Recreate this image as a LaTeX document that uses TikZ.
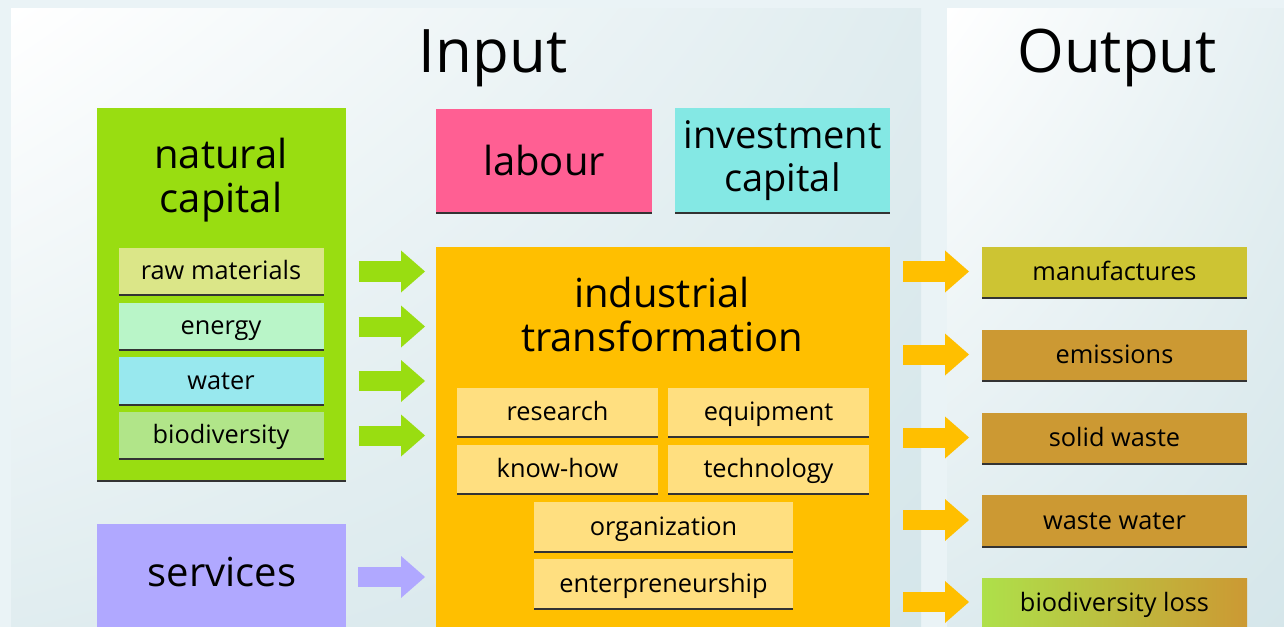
\documentclass[tikz,border=0pt]{standalone}
\usepackage{fontspec}
\setmainfont{Open Sans}
\usepackage{tikz}
\usetikzlibrary{arrows.meta}
\usetikzlibrary{calc}
\usetikzlibrary{shadings}

\definecolor{bgblue}{RGB}{234,243,246}
\definecolor{panelblue}{RGB}{213,230,234}
\definecolor{natgreen}{RGB}{153,221,17}
\definecolor{rawcol}{RGB}{219,230,136}
\definecolor{energycol}{RGB}{185,245,200}
\definecolor{watercol}{RGB}{152,232,238}
\definecolor{biocol}{RGB}{177,229,137}
\definecolor{labourcol}{RGB}{255,95,147}
\definecolor{investcol}{RGB}{132,232,228}
\definecolor{induscol}{RGB}{255,191,0}
\definecolor{subindus}{RGB}{255,223,128}
\definecolor{servcol}{RGB}{176,168,255}
\definecolor{manucol}{RGB}{205,196,51}
\definecolor{wastecol}{RGB}{204,153,51}
\definecolor{lossgreen}{RGB}{174,224,74}

\tikzset{
  boxsize/.style 2 args={minimum width=#1*0.75pt, minimum height=#2*0.75pt},
  tile/.style={rectangle, inner sep=0pt, outer sep=0pt, text=black},
  smalltxt/.style={font=\fontsize{19}{21}\selectfont, text height=15pt, text depth=3pt},
  bigtxt/.style={font=\fontsize{30}{33}\selectfont, align=center},
  titletxt/.style={font=\fontsize{45}{50}\selectfont, anchor=base},
  shadowline/.style={draw=black!80, line width=1.5pt},
  blockarrow/.style={line width=15pt, -{Triangle[width=31.5pt,length=18pt,line width=0pt]}},
}

\begin{document}
\begin{tikzpicture}[x=0.75pt,y=0.75pt,yscale=-1,xscale=1]
\useasboundingbox (0,0) rectangle (1284,627);
\clip (0,0) rectangle (1284,627);

%Background
\fill[bgblue] (0,0) rectangle (1284,627);
\shade[upper left=white, lower right=panelblue, upper right=panelblue!75!white, lower left=panelblue!75!white] (11,9) rectangle (921,640);
\shade[upper left=white, lower right=panelblue, upper right=panelblue!60!white, lower left=panelblue!80!white] (947,9) rectangle (1284,640);

% Titles
\node[titletxt] (intitle) at (493,73) {Input};
\node[titletxt] (outtitle) at (1117,73) {Output};

%Shape: natural capital
\node[tile, fill=natgreen, boxsize={249}{373}] (nat) at (221.5,294.5) {};
\node[bigtxt] (nattxt) at (221,180) {natural\\capital};
\node[tile, smalltxt, fill=rawcol, boxsize={205}{47}] (raw) at (221,271.5) {raw materials};
\node[tile, smalltxt, fill=energycol, boxsize={205}{47}] (energy) at (221,326.5) {energy};
\node[tile, smalltxt, fill=watercol, boxsize={205}{48}] (water) at (221,381) {water};
\node[tile, smalltxt, fill=biocol, boxsize={205}{47}] (bio) at (221,435.5) {biodiversity};

%Shape: services
\node[tile, fill=servcol, boxsize={249}{106}] (serv) at (221.5,577) {};
\node[bigtxt] (servtxt) at (222,572) {services};

%Shape: labour, investment capital
\node[tile, bigtxt, fill=labourcol, boxsize={216}{104}] (labour) at (544,161) {labour};
\node[tile, bigtxt, font=\fontsize{28.5}{32}\selectfont, fill=investcol, boxsize={215}{105}] (invest) at (782.5,160.5) {investment\\capital};

%Shape: industrial transformation
\node[tile, fill=induscol, boxsize={454}{383}] (indus) at (663,438.5) {};
\node[bigtxt] (industxt) at (662,314) {industrial\\transformation};
\node[tile, smalltxt, fill=subindus, boxsize={201}{49}] (research) at (557.5,412.5) {research};
\node[tile, smalltxt, fill=subindus, boxsize={201}{49}] (equip) at (768.5,412.5) {equipment};
\node[tile, smalltxt, fill=subindus, boxsize={201}{49}] (knowhow) at (557.5,469.5) {know-how};
\node[tile, smalltxt, fill=subindus, boxsize={201}{49}] (tech) at (768.5,469.5) {technology};
\node[tile, smalltxt, fill=subindus, boxsize={259}{50}] (org) at (663.5,527) {organization};
\node[tile, smalltxt, fill=subindus, boxsize={259}{50}] (entre) at (663.5,584) {enterpreneurship};

%Shape: outputs
\node[tile, smalltxt, fill=manucol, boxsize={265}{51}] (manu) at (1114.5,272.5) {manufactures};
\node[tile, smalltxt, fill=wastecol, boxsize={265}{51}] (emis) at (1114.5,355.5) {emissions};
\node[tile, smalltxt, fill=wastecol, boxsize={265}{51}] (solid) at (1114.5,438.5) {solid waste};
\node[tile, smalltxt, fill=wastecol, boxsize={265}{52}] (wwater) at (1114.5,521) {waste water};
\node[tile, smalltxt, left color=lossgreen, right color=wastecol, boxsize={265}{50}] (bioloss) at (1114.5,603) {biodiversity loss};

% bottom edges
\foreach \n in {nat,raw,energy,water,bio,labour,invest,research,equip,knowhow,tech,org,entre,manu,emis,solid,wwater}
  \draw[shadowline] (\n.south west) -- (\n.south east);

% Arrows in
\foreach \n in {raw,energy,water,bio}
  \draw[blockarrow, natgreen] ($(\n.east)+(35,0)$) -- ($(\n.east -| indus.west)+(-11,0)$);
\draw[blockarrow, servcol] ($(serv.east)+(12,0)$) -- ($(serv.east -| indus.west)+(-11,0)$);

% Arrows out
\foreach \n in {manu,emis,solid,wwater,bioloss}
  \draw[blockarrow, induscol] ($(\n.west -| indus.east)+(13,-1)$) -- ($(\n.west)+(-13,-1)$);

\end{tikzpicture}
\end{document}
